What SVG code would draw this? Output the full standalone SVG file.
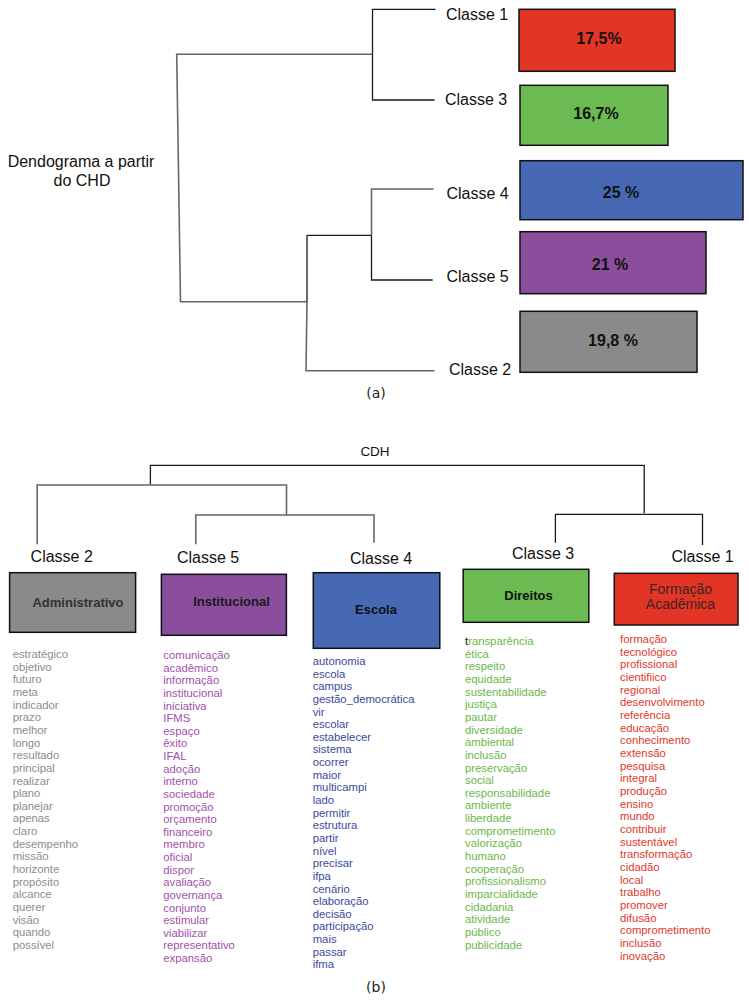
<svg xmlns="http://www.w3.org/2000/svg" width="749" height="1002" viewBox="0 0 749 1002">
<style>
.ln{stroke:#1a1a1a;stroke-width:1.3;fill:none}
.lg{stroke:#666;stroke-width:1.6;fill:none}
.lbl{font-family:"Liberation Sans",Arial,sans-serif;font-size:16px;fill:#111}
.pct{font-family:"Liberation Sans",Arial,sans-serif;font-size:16px;font-weight:bold;fill:#111;text-anchor:middle}
.bar{stroke:#111;stroke-width:1.5}
.bx{stroke:#111;stroke-width:1.5}
.bt{font-family:"Liberation Sans",Arial,sans-serif;font-size:13px;font-weight:bold;text-anchor:middle}
.w{font-family:"Liberation Sans",Arial,sans-serif;font-size:11.3px}
.cap{font-family:"DejaVu Sans",sans-serif;font-size:14px;fill:#222;text-anchor:middle}
</style>
<rect width="749" height="1002" fill="#fff"/>

<!-- Top dendrogram connectors -->
<g id="connectors-a">
<path class="ln" d="M435.5,9.3 H372.5 V100 H434.6"/>
<path class="lg" d="M372.5,54.3 H176.7 L180.5,301.7 H307"/>
<path class="ln" d="M371.5,235.3 H307"/>
<path class="lg" d="M307,301.7 L306,370.7 H434.6"/>
<path class="ln" d="M307,235.3 V301.7"/>
<path class="lg" d="M433.6,189 H371.5 V235.3"/>
<path class="ln" d="M371.5,235.3 V280 H432.7"/>
</g>

<g id="title-a"><text class="lbl" x="81" y="167" text-anchor="middle">Dendograma a partir</text><text class="lbl" x="82" y="186" text-anchor="middle">do CHD</text></g>

<g id="a-classe1"><text class="lbl" x="446" y="20">Classe 1</text><rect class="bar" x="519" y="9.3" width="156" height="62" fill="#E33526"/><text class="pct" x="599" y="44">17,5%</text></g>
<g id="a-classe3"><text class="lbl" x="445" y="105">Classe 3</text><rect class="bar" x="520" y="85.3" width="148" height="60" fill="#6CBA52"/><text class="pct" x="596" y="119">16,7%</text></g>
<g id="a-classe4"><text class="lbl" x="446.5" y="199">Classe 4</text><rect class="bar" x="520" y="160.7" width="223" height="59" fill="#4768B3"/><text class="pct" x="621" y="198">25 %</text></g>
<g id="a-classe5"><text class="lbl" x="446.5" y="282">Classe 5</text><rect class="bar" x="520" y="231.7" width="186" height="62" fill="#8A4E9C"/><text class="pct" x="610" y="270">21 %</text></g>
<g id="a-classe2"><text class="lbl" x="449" y="375">Classe 2</text><rect class="bar" x="520" y="311.3" width="177" height="61" fill="#8A8A8C"/><text class="pct" x="613" y="346">19,8 %</text></g>

<text class="cap" x="376" y="398">(a)</text>

<!-- Bottom dendrogram connectors -->
<g id="connectors-b">
<path class="ln" d="M150.4,485 V465.3 H644.2 V513.3"/>
<path class="lg" d="M37.2,544.3 V485 H286.5 V515"/>
<path class="lg" d="M195.8,544.3 V515 H374 V542.7"/>
<path class="ln" d="M555.4,542.7 V514.3 H702.5 V545"/>
</g>
<text class="lbl" x="375" y="456" text-anchor="middle" style="font-size:13.5px">CDH</text>

<g id="b-classe2">
<text class="lbl" x="30.6" y="561.7">Classe 2</text>
<rect class="bx" x="9.6" y="572.7" width="126" height="59.6" fill="#8A8A8C"/>
<text class="bt" x="78" y="607" fill="#333">Administrativo</text>
<text class="w" fill="#8c8c8c" x="12.7">
<tspan x="12.7" y="658">estratégico</tspan><tspan x="12.7" dy="12.65">objetivo</tspan><tspan x="12.7" dy="12.65">futuro</tspan><tspan x="12.7" dy="12.65">meta</tspan><tspan x="12.7" dy="12.65">indicador</tspan><tspan x="12.7" dy="12.65">prazo</tspan><tspan x="12.7" dy="12.65">melhor</tspan><tspan x="12.7" dy="12.65">longo</tspan><tspan x="12.7" dy="12.65">resultado</tspan><tspan x="12.7" dy="12.65">principal</tspan><tspan x="12.7" dy="12.65">realizar</tspan><tspan x="12.7" dy="12.65">plano</tspan><tspan x="12.7" dy="12.65">planejar</tspan><tspan x="12.7" dy="12.65">apenas</tspan><tspan x="12.7" dy="12.65">claro</tspan><tspan x="12.7" dy="12.65">desempenho</tspan><tspan x="12.7" dy="12.65">missão</tspan><tspan x="12.7" dy="12.65">horizonte</tspan><tspan x="12.7" dy="12.65">propósito</tspan><tspan x="12.7" dy="12.65">alcance</tspan><tspan x="12.7" dy="12.65">querer</tspan><tspan x="12.7" dy="12.65">visão</tspan><tspan x="12.7" dy="12.65">quando</tspan><tspan x="12.7" dy="12.65">possível</tspan>
</text>
</g>

<g id="b-classe5">
<text class="lbl" x="177" y="563.3">Classe 5</text>
<rect class="bx" x="161.4" y="574.3" width="125" height="61" fill="#8A4E9C"/>
<text class="bt" x="231.5" y="606" fill="#1a1a1a">Institucional</text>
<text class="w" fill="#a34fab">
<tspan x="163.3" y="659">comunicação</tspan><tspan x="163.3" dy="12.63">acadêmico</tspan><tspan x="163.3" dy="12.63">informação</tspan><tspan x="163.3" dy="12.63">institucional</tspan><tspan x="163.3" dy="12.63">iniciativa</tspan><tspan x="163.3" dy="12.63">IFMS</tspan><tspan x="163.3" dy="12.63">espaço</tspan><tspan x="163.3" dy="12.63">êxito</tspan><tspan x="163.3" dy="12.63">IFAL</tspan><tspan x="163.3" dy="12.63">adoção</tspan><tspan x="163.3" dy="12.63">interno</tspan><tspan x="163.3" dy="12.63">sociedade</tspan><tspan x="163.3" dy="12.63">promoção</tspan><tspan x="163.3" dy="12.63">orçamento</tspan><tspan x="163.3" dy="12.63">financeiro</tspan><tspan x="163.3" dy="12.63">membro</tspan><tspan x="163.3" dy="12.63">oficial</tspan><tspan x="163.3" dy="12.63">dispor</tspan><tspan x="163.3" dy="12.63">avaliação</tspan><tspan x="163.3" dy="12.63">governança</tspan><tspan x="163.3" dy="12.63">conjunto</tspan><tspan x="163.3" dy="12.63">estimular</tspan><tspan x="163.3" dy="12.63">viabilizar</tspan><tspan x="163.3" dy="12.63">representativo</tspan><tspan x="163.3" dy="12.63">expansão</tspan>
</text>
</g>

<g id="b-classe4">
<text class="lbl" x="350" y="564.3">Classe 4</text>
<rect class="bx" x="313.3" y="572.7" width="126.5" height="75.6" fill="#4768B3"/>
<text class="bt" x="376" y="614" fill="#111">Escola</text>
<text class="w" fill="#3a4a9e">
<tspan x="312.7" y="665">autonomia</tspan><tspan x="312.7" dy="12.64">escola</tspan><tspan x="312.7" dy="12.64">campus</tspan><tspan x="312.7" dy="12.64">gestão_democrática</tspan><tspan x="312.7" dy="12.64">vir</tspan><tspan x="312.7" dy="12.64">escolar</tspan><tspan x="312.7" dy="12.64">estabelecer</tspan><tspan x="312.7" dy="12.64">sistema</tspan><tspan x="312.7" dy="12.64">ocorrer</tspan><tspan x="312.7" dy="12.64">maior</tspan><tspan x="312.7" dy="12.64">multicampi</tspan><tspan x="312.7" dy="12.64">lado</tspan><tspan x="312.7" dy="12.64">permitir</tspan><tspan x="312.7" dy="12.64">estrutura</tspan><tspan x="312.7" dy="12.64">partir</tspan><tspan x="312.7" dy="12.64">nível</tspan><tspan x="312.7" dy="12.64">precisar</tspan><tspan x="312.7" dy="12.64">ifpa</tspan><tspan x="312.7" dy="12.64">cenário</tspan><tspan x="312.7" dy="12.64">elaboração</tspan><tspan x="312.7" dy="12.64">decisão</tspan><tspan x="312.7" dy="12.64">participação</tspan><tspan x="312.7" dy="12.64">mais</tspan><tspan x="312.7" dy="12.64">passar</tspan><tspan x="312.7" dy="12.64">ifma</tspan>
</text>
</g>

<g id="b-classe3">
<text class="lbl" x="512" y="559.3">Classe 3</text>
<rect class="bx" x="463.2" y="569.3" width="125.6" height="53" fill="#6CBA52"/>
<text class="bt" x="528.5" y="600" fill="#111">Direitos</text>
<text class="w" fill="#6ab84a">
<tspan x="465" y="645"><tspan fill="#111">t</tspan>ransparência</tspan><tspan x="465" dy="12.65">ética</tspan><tspan x="465" dy="12.65">respeito</tspan><tspan x="465" dy="12.65">equidade</tspan><tspan x="465" dy="12.65">sustentabilidade</tspan><tspan x="465" dy="12.65">justiça</tspan><tspan x="465" dy="12.65">pautar</tspan><tspan x="465" dy="12.65">diversidade</tspan><tspan x="465" dy="12.65">ambiental</tspan><tspan x="465" dy="12.65">inclusão</tspan><tspan x="465" dy="12.65">preservação</tspan><tspan x="465" dy="12.65">social</tspan><tspan x="465" dy="12.65">responsabilidade</tspan><tspan x="465" dy="12.65">ambiente</tspan><tspan x="465" dy="12.65">liberdade</tspan><tspan x="465" dy="12.65">comprometimento</tspan><tspan x="465" dy="12.65">valorização</tspan><tspan x="465" dy="12.65">humano</tspan><tspan x="465" dy="12.65">cooperação</tspan><tspan x="465" dy="12.65">profissionalismo</tspan><tspan x="465" dy="12.65">imparcialidade</tspan><tspan x="465" dy="12.65">cidadania</tspan><tspan x="465" dy="12.65">atividade</tspan><tspan x="465" dy="12.65">público</tspan><tspan x="465" dy="12.65">publicidade</tspan>
</text>
</g>

<g id="b-classe1">
<text class="lbl" x="671.4" y="561.7">Classe 1</text>
<rect class="bx" x="614.3" y="573.3" width="123.7" height="51.7" fill="#E33526"/>
<text x="680.5" y="594.3" text-anchor="middle" style="font-family:'Liberation Sans',Arial,sans-serif;font-size:14px;fill:#3a2622">Formação</text>
<text x="680.5" y="609.3" text-anchor="middle" style="font-family:'Liberation Sans',Arial,sans-serif;font-size:14px;fill:#3a2622">Acadêmica</text>
<text class="w" fill="#e0392a">
<tspan x="620" y="643">formação</tspan><tspan x="620" dy="12.67">tecnológico</tspan><tspan x="620" dy="12.67">profissional</tspan><tspan x="620" dy="12.67">cientifiico</tspan><tspan x="620" dy="12.67">regional</tspan><tspan x="620" dy="12.67">desenvolvimento</tspan><tspan x="620" dy="12.67">referência</tspan><tspan x="620" dy="12.67">educação</tspan><tspan x="620" dy="12.67">conhecimento</tspan><tspan x="620" dy="12.67">extensão</tspan><tspan x="620" dy="12.67">pesquisa</tspan><tspan x="620" dy="12.67">integral</tspan><tspan x="620" dy="12.67">produção</tspan><tspan x="620" dy="12.67">ensino</tspan><tspan x="620" dy="12.67">mundo</tspan><tspan x="620" dy="12.67">contribuir</tspan><tspan x="620" dy="12.67">sustentável</tspan><tspan x="620" dy="12.67">transformação</tspan><tspan x="620" dy="12.67">cidadão</tspan><tspan x="620" dy="12.67">local</tspan><tspan x="620" dy="12.67">trabalho</tspan><tspan x="620" dy="12.67">promover</tspan><tspan x="620" dy="12.67">difusão</tspan><tspan x="620" dy="12.67">comprometimento</tspan><tspan x="620" dy="12.67">inclusão</tspan><tspan x="620" dy="12.67">inovação</tspan>
</text>
</g>

<text class="cap" x="376" y="992">(b)</text>
</svg>
